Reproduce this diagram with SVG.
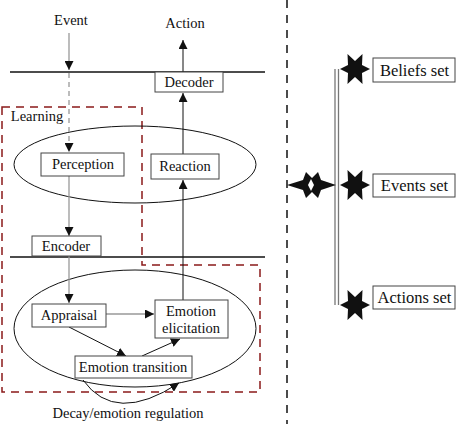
<svg xmlns="http://www.w3.org/2000/svg" width="456" height="424" viewBox="0 0 456 424">
<defs>
<style>
text{font-family:'Liberation Serif','DejaVu Serif',serif;font-size:14.5px;fill:#111;text-anchor:middle}
text.set{font-size:16.5px}
.box{fill:#fff;stroke:#444;stroke-width:1}
.ell{fill:none;stroke:#111;stroke-width:1}
.bar{stroke:#111;stroke-width:1.6}
.g{stroke:#999;stroke-width:1.3;fill:none}
.k{stroke:#111;stroke-width:1;fill:none}
.red{fill:none;stroke:#8b1a1a;stroke-width:1.5;stroke-dasharray:8,6}
.star{fill:#111}
</style>
<marker id="ah" viewBox="0 0 10 10" refX="10" refY="5" markerWidth="9" markerHeight="9" markerUnits="userSpaceOnUse" orient="auto">
<path d="M0,0 L10,5 L0,10 z" fill="#111"/>
</marker>
<path id="star6" d="M15,0 L7,4 L7.5,15 L0,8 L-7.5,15 L-7,4 L-15,0 L-7,-4 L-7.5,-15 L0,-8 L7.5,-15 L7,-4 Z" fill="#111"/>
</defs>
<rect width="456" height="424" fill="#fff"/>

<g id="bars">
<line class="bar" x1="10" y1="72" x2="265" y2="72"/>
<line class="bar" x1="10" y1="257" x2="265" y2="257"/>
</g>

<g font-family="Liberation Serif, DejaVu Serif, serif" font-size="14.5">
<g id="learning">
<path class="red" d="M2,107 H142 V265 H260 V392 H2 Z"/>
<text x="37" y="121">Learning</text>
</g>

<g id="ellipses">
<ellipse class="ell" cx="135" cy="164.5" rx="121" ry="38.5"/>
<ellipse class="ell" cx="135" cy="328.5" rx="121" ry="58.5"/>
</g>

<g id="connectors">
<line class="g" x1="69" y1="33" x2="69" y2="70" marker-end="url(#ah)"/>
<line class="g" x1="69" y1="73" x2="69" y2="152" stroke-dasharray="5,4" marker-end="url(#ah)"/>
<line class="g" x1="69" y1="176" x2="69" y2="236" marker-end="url(#ah)"/>
<line class="g" x1="69" y1="256" x2="69" y2="303" marker-end="url(#ah)"/>
<line class="g" x1="106" y1="314" x2="154" y2="314" marker-end="url(#ah)"/>
<line class="k" x1="183" y1="72" x2="183" y2="40" marker-end="url(#ah)"/>
<line class="k" x1="183" y1="154" x2="183" y2="93" marker-end="url(#ah)"/>
<line class="k" x1="183" y1="300" x2="183" y2="180" marker-end="url(#ah)"/>
<line class="k" x1="69" y1="327" x2="126" y2="356" marker-end="url(#ah)"/>
<line class="k" x1="142" y1="356" x2="180" y2="339" marker-end="url(#ah)"/>
<path class="k" d="M83,380 Q115,425 179,383" marker-end="url(#ah)"/>
<line x1="287" y1="0" x2="287" y2="424" stroke="#111" stroke-width="1.5" stroke-dasharray="8,7"/>
<line x1="335" y1="69" x2="335" y2="305" stroke="#777" stroke-width="1.3"/>
<line x1="338.5" y1="69" x2="338.5" y2="305" stroke="#777" stroke-width="1.3"/>
</g>

<g id="labels">
<text x="71" y="25">Event</text>
<text x="185" y="28">Action</text>
<text x="128" y="418">Decay/emotion regulation</text>
</g>

<g id="decoder"><rect class="box" x="155" y="72" width="68" height="20"/><text x="189" y="87">Decoder</text></g>
<g id="perception"><rect class="box" x="41" y="153" width="83" height="23"/><text x="83" y="169">Perception</text></g>
<g id="reaction"><rect class="box" x="151" y="154" width="68" height="25"/><text x="185" y="171">Reaction</text></g>
<g id="encoder"><rect class="box" x="32" y="236" width="69" height="20"/><text x="66" y="251">Encoder</text></g>
<g id="appraisal"><rect class="box" x="32" y="304" width="74" height="23"/><text x="69" y="320">Appraisal</text></g>
<g id="elicitation"><rect class="box" x="155" y="300" width="73" height="38"/><text x="191" y="316">Emotion</text><text x="191" y="333">elicitation</text></g>
<g id="transition"><rect class="box" x="75" y="356" width="117" height="22"/><text x="133" y="372">Emotion transition</text></g>

<g id="hub">
<path class="star" d="M287,185 L303,180 L306,172 L312,178 L318,172 L321,180 L336,185 L321,190 L318,198 L312,192 L306,198 L303,190 Z"/>
<path d="M311,179 L314,185 L311,191 L308,185 Z" fill="#fff"/>
</g>

<g id="beliefs">
<use href="#star6" x="355" y="69"/>
<rect class="box" x="373" y="58" width="82" height="24"/><text class="set" x="414.5" y="76" font-size="16.5">Beliefs set</text>
</g>
<g id="events">
<use href="#star6" x="355" y="185"/>
<rect class="box" x="373" y="174" width="82" height="23"/><text class="set" x="414.5" y="191" font-size="16.5">Events set</text>
</g>
<g id="actions">
<use href="#star6" x="355" y="305"/>
<rect class="box" x="373" y="286" width="82" height="23"/><text class="set" x="414.5" y="303" font-size="16.5">Actions set</text>
</g>
</g>
</svg>
